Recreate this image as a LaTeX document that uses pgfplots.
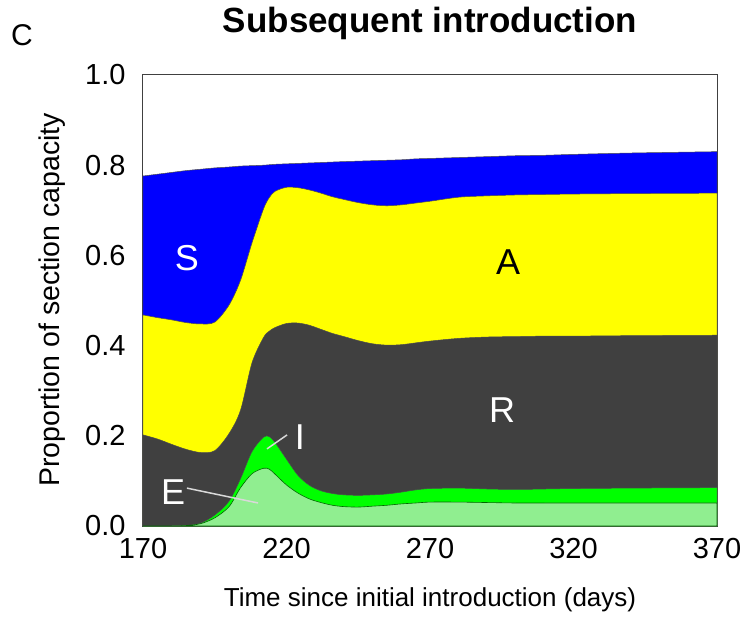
\documentclass[border=0pt]{standalone}
\usepackage{fontspec}
\setmainfont{Liberation Sans}
\usepackage{pgfplots}
\usepackage{pgfplotstable}
\pgfplotsset{compat=1.18}
\definecolor{cS}{HTML}{0000FF}
\definecolor{cA}{HTML}{FFFF00}
\definecolor{cR}{HTML}{404040}
\definecolor{cI}{HTML}{00FF00}
\definecolor{cE}{HTML}{90EE90}
% cumulative stacked boundaries: e = E, i = E+I, r = +R, a = +A, s = +S
\pgfplotstableread{
x    e     i     r     a     s
170  0.000 0.000 0.202 0.468 0.776
175  0.000 0.000 0.193 0.462 0.780
180  0.000 0.000 0.181 0.457 0.784
185  0.001 0.001 0.170 0.451 0.788
190  0.005 0.006 0.163 0.448 0.791
195  0.018 0.024 0.167 0.452 0.794
200  0.043 0.055 0.205 0.490 0.796
204  0.085 0.105 0.257 0.545 0.798
208  0.116 0.165 0.362 0.628 0.799
212  0.128 0.197 0.418 0.703 0.800
214  0.126 0.198 0.432 0.728 0.801
216  0.115 0.185 0.440 0.742 0.802
220  0.091 0.148 0.449 0.751 0.803
224  0.073 0.112 0.450 0.750 0.804
228  0.060 0.090 0.445 0.745 0.805
232  0.052 0.078 0.436 0.738 0.806
236  0.046 0.072 0.427 0.730 0.807
240  0.043 0.069 0.420 0.724 0.808
245  0.042 0.068 0.411 0.717 0.809
250  0.044 0.069 0.404 0.712 0.810
255  0.046 0.071 0.401 0.710 0.811
260  0.049 0.075 0.402 0.712 0.812
265  0.051 0.080 0.406 0.716 0.814
270  0.053 0.083 0.410 0.720 0.815
280  0.053 0.084 0.416 0.729 0.817
290  0.052 0.082 0.419 0.732 0.819
300  0.051 0.081 0.420 0.734 0.821
310  0.051 0.082 0.421 0.735 0.822
320  0.051 0.083 0.421 0.736 0.824
340  0.051 0.084 0.422 0.737 0.827
370  0.051 0.085 0.423 0.738 0.830
}\stacked
\begin{document}
\begin{tikzpicture}
\useasboundingbox (-143bp,-94bp) rectangle (600bp,526bp);
\begin{axis}[
  at={(0,0)}, anchor=south west,
  scale only axis, width=574bp, height=451bp,
  xmin=170, xmax=370, ymin=0, ymax=1,
  xtick={170,220,270,320,370},
  ytick={0,0.2,0.4,0.6,0.8,1},
  major tick length=0pt,
  axis line style={black!75, line width=1bp},
  tick label style={font=\fontsize{29bp}{34bp}\selectfont},
  /pgf/number format/assume math mode=true,
  yticklabel style={xshift=-14bp, /pgf/number format/.cd, fixed, fixed zerofill, precision=1},
  xticklabel style={yshift=-9bp, /pgf/number format/.cd, set thousands separator={}},
  clip=true,
]
\addplot[fill=cS, draw=black!70, line width=0.5bp, smooth] table[x=x,y=s]{\stacked} \closedcycle;
\addplot[fill=cA, draw=black!70, line width=0.5bp, smooth] table[x=x,y=a]{\stacked} \closedcycle;
\addplot[fill=cR, draw=black!70, line width=0.5bp, smooth] table[x=x,y=r]{\stacked} \closedcycle;
\addplot[fill=cI, draw=black!70, line width=0.5bp, smooth] table[x=x,y=i]{\stacked} \closedcycle;
\addplot[fill=cE, draw=black!60!green, line width=0.6bp, smooth] table[x=x,y=e]{\stacked} \closedcycle;
\draw[white!85!black, line width=1.5bp] (axis cs:213.2,0.171) -- (axis cs:220.2,0.202);
\draw[white!85!black, line width=1.5bp] (axis cs:185.3,0.084) -- (axis cs:210.1,0.051);
\node[white, font=\fontsize{36bp}{40bp}\selectfont] at (axis cs:185.3,0.594) {S};
\node[black, font=\fontsize{36bp}{40bp}\selectfont] at (axis cs:297.2,0.585) {A};
\node[white, font=\fontsize{36bp}{40bp}\selectfont] at (axis cs:295.1,0.257) {R};
\node[white, font=\fontsize{36bp}{40bp}\selectfont] at (axis cs:224.7,0.197) {I};
\node[white, font=\fontsize{36bp}{40bp}\selectfont] at (axis cs:180.5,0.075) {E};
\end{axis}
\node[font=\fontsize{26bp}{30bp}\selectfont] at (287bp,-74bp) {Time since initial introduction (days)};
\node[font=\fontsize{28.5bp}{32bp}\selectfont, rotate=90] at (-91bp,226bp) {Proportion of section capacity};
\node[font=\fontsize{35bp}{40bp}\selectfont\bfseries] at (287bp,503bp) {Subsequent introduction};
\node[font=\fontsize{30bp}{34bp}\selectfont] at (-121bp,491bp) {C};
\end{tikzpicture}
\end{document}
